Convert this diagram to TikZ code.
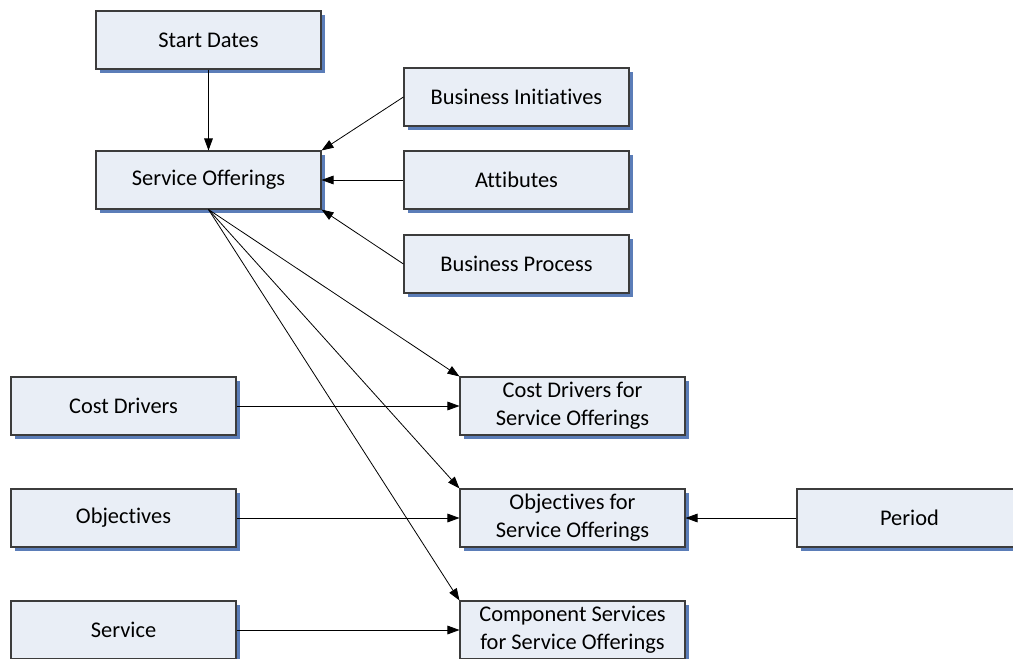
\documentclass[tikz,border=0pt]{standalone}
\usepackage{fontspec}
\setmainfont{Carlito}[Ligatures=NoCommon]
\usetikzlibrary{shadows,arrows.meta}
\definecolor{boxfill}{HTML}{E9EEF6}
\definecolor{boxshadow}{HTML}{5B7DB8}
\definecolor{boxline}{HTML}{3C3C3C}
\tikzset{
  entity/.style={draw=boxline, fill=boxfill, line width=0.8pt,
    minimum width=168.75pt, minimum height=43.5pt, inner sep=0pt,
    align=center, font=\fontsize{16.8}{21}\selectfont,
    drop shadow={shadow xshift=3pt, shadow yshift=-3pt, fill=boxshadow, opacity=1}},
  link/.style={-{Triangle[length=9pt,width=6.5pt]}, line width=0.6pt}
}
\begin{document}
\begin{tikzpicture}[x=0.75pt, y=-0.75pt]
\useasboundingbox (0,0) rectangle (1013,659);
\clip (0,0) rectangle (1013,659);
% left column
\node[entity] (start) at (208.5,40) {Start Dates};
\node[entity] (offer) at (208.5,180) {Service Offerings};
\node[entity] (cost) at (123.5,406) {Cost Drivers};
\node[entity] (obj) at (123.5,518) {Objectives};
\node[entity] (serv) at (123.5,630) {Service};
% middle column
\node[entity] (init) at (516.5,97) {Business Initiatives};
\node[entity] (attr) at (516.5,180) {Attibutes};
\node[entity] (proc) at (516.5,264) {Business Process};
\node[entity] (costso) at (572.5,406) {Cost Drivers for\\Service Offerings};
\node[entity] (objso) at (572.5,518) {Objectives for\\Service Offerings};
\node[entity] (compso) at (572.5,630) {Component Services\\for Service Offerings};
% right
\node[entity] (period) at (909.5,518) {Period};
% connectors
\draw[link] (start) -- (offer);
\draw[link] (init.west) -- (offer.north east);
\draw[link] (attr) -- (offer);
\draw[link] (proc.west) -- (offer.south east);
\draw[link] (offer.south) -- (costso.north west);
\draw[link] (offer.south) -- (objso.north west);
\draw[link] (offer.south) -- (compso.north west);
\draw[link] (cost) -- (costso);
\draw[link] (obj) -- (objso);
\draw[link] (serv) -- (compso);
\draw[link] (period) -- (objso);
\end{tikzpicture}
\end{document}
